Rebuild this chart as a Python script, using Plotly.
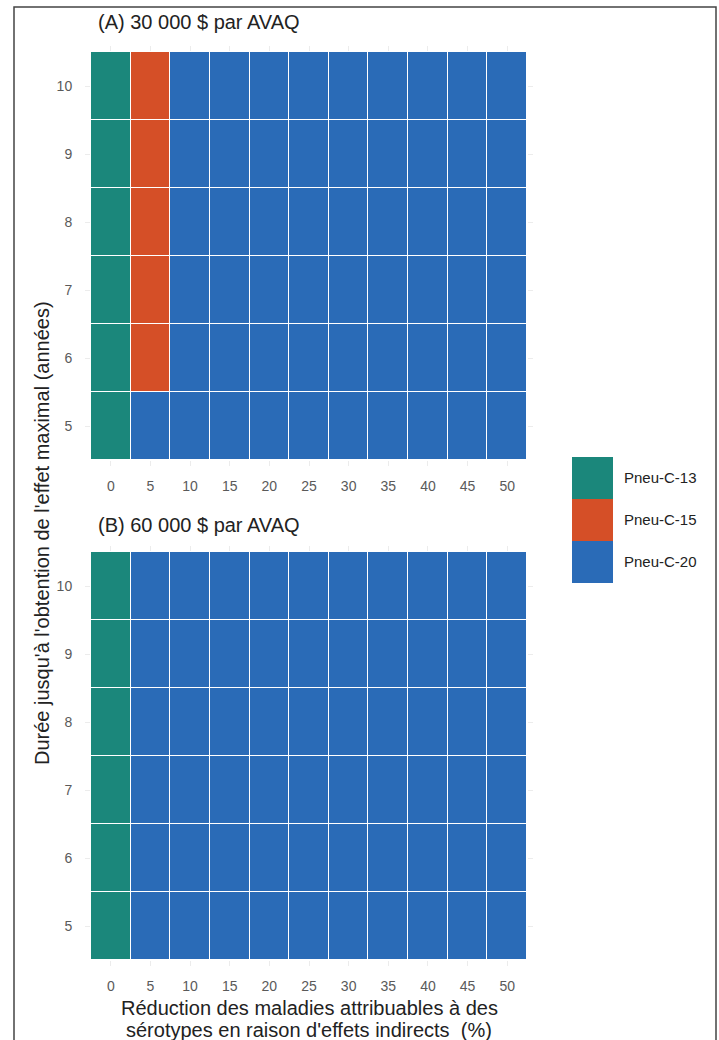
import plotly.graph_objects as go

# Grid: reduction of serotype disease from indirect effects (%) vs years to peak effect
reduction_pct = [0, 5, 10, 15, 20, 25, 30, 35, 40, 45, 50]
years_to_peak = [5, 6, 7, 8, 9, 10]

strategies = ["Pneu-C-13", "Pneu-C-15", "Pneu-C-20"]
strategy_colors = ["#1b877b", "#d54f27", "#2a6bb7"]

# Optimal strategy per cell, one row per value of years_to_peak (5 -> 10)
panel_a_rows = [
    ["Pneu-C-13", "Pneu-C-20", "Pneu-C-20", "Pneu-C-20", "Pneu-C-20", "Pneu-C-20", "Pneu-C-20", "Pneu-C-20", "Pneu-C-20", "Pneu-C-20", "Pneu-C-20"],
    ["Pneu-C-13", "Pneu-C-15", "Pneu-C-20", "Pneu-C-20", "Pneu-C-20", "Pneu-C-20", "Pneu-C-20", "Pneu-C-20", "Pneu-C-20", "Pneu-C-20", "Pneu-C-20"],
    ["Pneu-C-13", "Pneu-C-15", "Pneu-C-20", "Pneu-C-20", "Pneu-C-20", "Pneu-C-20", "Pneu-C-20", "Pneu-C-20", "Pneu-C-20", "Pneu-C-20", "Pneu-C-20"],
    ["Pneu-C-13", "Pneu-C-15", "Pneu-C-20", "Pneu-C-20", "Pneu-C-20", "Pneu-C-20", "Pneu-C-20", "Pneu-C-20", "Pneu-C-20", "Pneu-C-20", "Pneu-C-20"],
    ["Pneu-C-13", "Pneu-C-15", "Pneu-C-20", "Pneu-C-20", "Pneu-C-20", "Pneu-C-20", "Pneu-C-20", "Pneu-C-20", "Pneu-C-20", "Pneu-C-20", "Pneu-C-20"],
    ["Pneu-C-13", "Pneu-C-15", "Pneu-C-20", "Pneu-C-20", "Pneu-C-20", "Pneu-C-20", "Pneu-C-20", "Pneu-C-20", "Pneu-C-20", "Pneu-C-20", "Pneu-C-20"],
]
panel_b_rows = [
    ["Pneu-C-13", "Pneu-C-20", "Pneu-C-20", "Pneu-C-20", "Pneu-C-20", "Pneu-C-20", "Pneu-C-20", "Pneu-C-20", "Pneu-C-20", "Pneu-C-20", "Pneu-C-20"],
    ["Pneu-C-13", "Pneu-C-20", "Pneu-C-20", "Pneu-C-20", "Pneu-C-20", "Pneu-C-20", "Pneu-C-20", "Pneu-C-20", "Pneu-C-20", "Pneu-C-20", "Pneu-C-20"],
    ["Pneu-C-13", "Pneu-C-20", "Pneu-C-20", "Pneu-C-20", "Pneu-C-20", "Pneu-C-20", "Pneu-C-20", "Pneu-C-20", "Pneu-C-20", "Pneu-C-20", "Pneu-C-20"],
    ["Pneu-C-13", "Pneu-C-20", "Pneu-C-20", "Pneu-C-20", "Pneu-C-20", "Pneu-C-20", "Pneu-C-20", "Pneu-C-20", "Pneu-C-20", "Pneu-C-20", "Pneu-C-20"],
    ["Pneu-C-13", "Pneu-C-20", "Pneu-C-20", "Pneu-C-20", "Pneu-C-20", "Pneu-C-20", "Pneu-C-20", "Pneu-C-20", "Pneu-C-20", "Pneu-C-20", "Pneu-C-20"],
    ["Pneu-C-13", "Pneu-C-20", "Pneu-C-20", "Pneu-C-20", "Pneu-C-20", "Pneu-C-20", "Pneu-C-20", "Pneu-C-20", "Pneu-C-20", "Pneu-C-20", "Pneu-C-20"],
]

panel_titles = ["(A) 30 000 $ par AVAQ", "(B) 60 000 $ par AVAQ"]
x_title_lines = ["Réduction des maladies attribuables à des",
                 "sérotypes en raison d'effets indirects  (%)"]
y_title = "Durée jusqu'à l'obtention de l'effet maximal (années)"

W, H = 719, 1040
FONT = "Liberation Sans, Arial, Helvetica, sans-serif"
TEXT = "#222222"


def px_x(a, b):
    return [a / W, b / W]


def px_y(top, bottom):
    return [1 - bottom / H, 1 - top / H]


# discrete colour scale: index 0,1,2 -> strategy colour
n = len(strategies)
colorscale = []
for i, c in enumerate(strategy_colors):
    colorscale.append([i / n, c])
    colorscale.append([(i + 1) / n, c])

idx = {s: i for i, s in enumerate(strategies)}

fig = go.Figure()

panels = [
    (panel_a_rows, "x", "y"),
    (panel_b_rows, "x2", "y2"),
]
for rows, xa, ya in panels:
    z = [[idx[s] for s in row] for row in rows]
    fig.add_trace(go.Heatmap(
        x=reduction_pct, y=years_to_peak, z=z,
        zmin=-0.5, zmax=n - 0.5, colorscale=colorscale, showscale=False,
        xgap=1, ygap=1, xaxis=xa, yaxis=ya,
        text=rows, hovertemplate="%{x} %, %{y} ans: %{text}<extra></extra>",
    ))

# legend keys drawn as a one-column tile strip
fig.add_trace(go.Heatmap(
    x=[0], y=strategies[::-1], z=[[idx[s]] for s in strategies[::-1]],
    zmin=-0.5, zmax=n - 0.5, colorscale=colorscale, showscale=False,
    xaxis="x3", yaxis="y3", hoverinfo="skip",
))

tick_font = dict(family=FONT, size=14, color="#5a5a5a")
common_x = dict(
    tickmode="array", tickvals=reduction_pct, range=[-2.5, 52.5],
    showgrid=False, zeroline=False, showline=False,
    ticks="outside", ticklen=5, tickcolor="#ececec", tickwidth=1,
    mirror="ticks", tickfont=tick_font, ticklabelstandoff=8,
)
common_y = dict(
    tickmode="array", tickvals=years_to_peak, range=[4.5, 10.5],
    showgrid=False, zeroline=False, showline=False,
    ticks="outside", ticklen=5, tickcolor="#ececec", tickwidth=1,
    mirror="ticks", tickfont=tick_font, ticklabelstandoff=10,
)

fig.update_layout(
    width=W, height=H,
    margin=dict(l=0, r=0, t=0, b=0),
    paper_bgcolor="white", plot_bgcolor="white",
    font=dict(family=FONT, color=TEXT),
    showlegend=False,
    xaxis=dict(domain=px_x(91, 527), anchor="y", **common_x),
    yaxis=dict(domain=px_y(52, 460), anchor="x", **common_y),
    xaxis2=dict(domain=px_x(91, 527), anchor="y2", **common_x),
    yaxis2=dict(domain=px_y(552, 960), anchor="x2", **common_y),
    xaxis3=dict(domain=px_x(572, 613), anchor="y3", showticklabels=False,
                showgrid=False, zeroline=False, ticks="", fixedrange=True),
    yaxis3=dict(domain=px_y(457, 583), anchor="x3", side="right",
                showgrid=False, zeroline=False, ticks="",
                tickfont=dict(family=FONT, size=15, color=TEXT),
                ticklabelstandoff=10),
)

title_font = dict(family=FONT, size=20, color=TEXT)
annotations = []
for text, yc in zip(panel_titles, [22, 525]):
    annotations.append(dict(
        text=text, x=96 / W, y=1 - yc / H, xref="paper", yref="paper",
        xanchor="left", yanchor="middle", showarrow=False, font=title_font,
    ))
for text, yc in zip(x_title_lines, [1008, 1030]):
    annotations.append(dict(
        text=text, x=309 / W, y=1 - yc / H, xref="paper", yref="paper",
        xanchor="center", yanchor="middle", showarrow=False, font=title_font,
    ))
annotations.append(dict(
    text=y_title, x=42 / W, y=1 - 533 / H, xref="paper", yref="paper",
    xanchor="center", yanchor="middle", showarrow=False, textangle=-90,
    font=title_font,
))
fig.update_layout(annotations=annotations)

# outer frame around the figure
fig.add_shape(type="rect", xref="paper", yref="paper",
              x0=14 / W, x1=716 / W, y0=-0.05, y1=1 - 7 / H,
              line=dict(color="#444444", width=1.5), fillcolor="rgba(0,0,0,0)")

fig.write_html("out.html")
